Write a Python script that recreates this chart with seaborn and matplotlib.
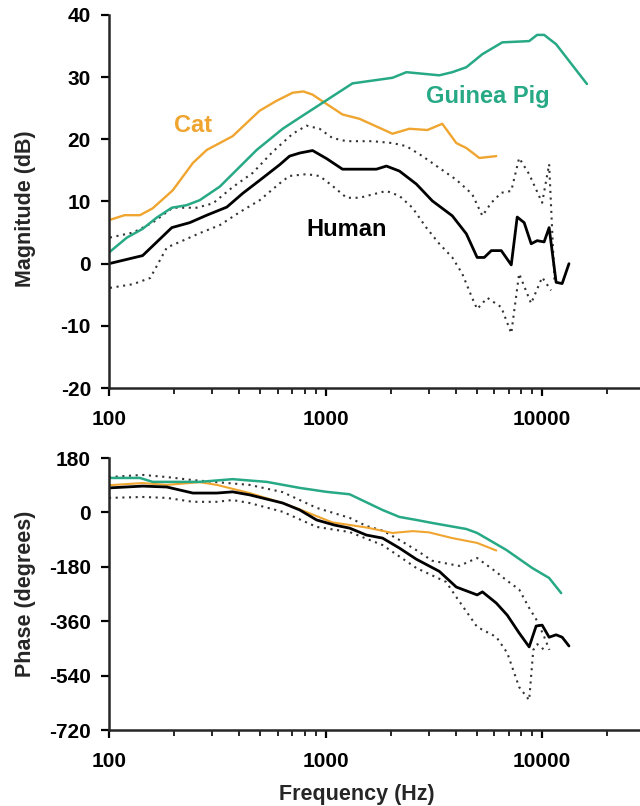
import matplotlib
matplotlib.use("Agg")
import matplotlib.pyplot as plt
import seaborn as sns
import pandas as pd
from matplotlib.ticker import LogLocator, NullFormatter, FixedLocator

sns.set_style("ticks")
plt.rcParams['font.family'] = ['Liberation Sans', 'DejaVu Sans']
plt.rcParams['font.weight'] = 'bold'

# ---------------- data: magnitude (dB) ----------------
cat_mag_f = [100, 118, 139, 159, 197, 244, 283, 372, 496, 594, 705, 790, 870, 960,
             1197, 1435, 2037, 2438, 2951, 3459, 4014, 4467, 5130, 6140]
cat_mag = [7.0, 7.8, 7.8, 8.9, 11.8, 16.2, 18.3, 20.5, 24.6, 26.2, 27.5, 27.7, 27.2, 26.2,
           24.0, 23.3, 20.9, 21.7, 21.5, 22.5, 19.4, 18.6, 17.0, 17.3]

gp_mag_f = [100, 121, 143, 166, 195, 228, 262, 325, 402, 481, 634, 760, 1011, 1331,
            2037, 2361, 3350, 3846, 4467, 5296, 6548, 8707, 9480, 10210, 11600, 16100]
gp_mag = [1.8, 4.2, 5.6, 7.4, 9.0, 9.4, 10.2, 12.4, 15.6, 18.3, 21.7, 23.5, 26.3, 29.0,
          29.9, 30.8, 30.3, 30.8, 31.6, 33.7, 35.6, 35.8, 36.8, 36.8, 35.3, 28.9]

hum_mag_f = [100, 143, 195, 236, 283, 350, 414, 496, 613, 682, 760, 871, 1011, 1197,
             1545, 1717, 1909, 2192, 2626, 3110, 3846, 4467, 5010, 5405, 5825, 6475,
             7200, 7670, 8260, 8900, 9480, 10210, 10770, 11600, 12370, 13300]
hum_mag = [0.0, 1.3, 5.8, 6.6, 7.8, 9.1, 11.3, 13.4, 15.9, 17.3, 17.8, 18.2, 16.9, 15.2,
           15.2, 15.2, 15.7, 14.9, 12.8, 10.1, 7.7, 4.8, 1.0, 1.0, 2.1, 2.1,
           -0.2, 7.5, 6.6, 3.2, 3.7, 3.5, 5.8, -3.0, -3.2, 0.0]

hum_up_mag_f = [101, 129, 159, 197, 254, 302, 372, 461, 570, 705, 817, 938, 1077, 1250,
                1648, 2037, 2361, 2800, 3350, 4014, 4750, 5296, 5825, 6475, 7200, 7830,
                8710, 10000, 10770, 11400]
hum_up_mag = [4.2, 5.0, 6.6, 9.0, 9.0, 9.7, 12.3, 14.6, 18.0, 20.9, 22.2, 21.7, 20.2, 19.7,
              19.7, 19.4, 18.9, 17.3, 15.4, 13.5, 11.2, 7.7, 9.8, 11.4, 11.7, 17.0,
              14.4, 9.8, 16.0, -2.7]

hum_lo_mag_f = [101, 129, 155, 185, 219, 262, 325, 402, 496, 613, 680, 817, 938, 1077,
                1250, 1435, 1909, 2192, 2518, 2917, 3350, 3846, 4275, 4750, 5010, 5585,
                6475, 7200, 7830, 8890, 10000, 10990]
hum_lo_mag = [-3.9, -3.3, -2.3, 2.6, 3.7, 4.9, 6.2, 8.3, 10.2, 12.9, 14.1, 14.4, 14.1, 12.5,
              10.6, 10.6, 11.7, 10.9, 9.0, 5.8, 3.2, 1.0, -1.6, -5.5, -7.3, -5.5,
              -7.0, -11.2, -1.6, -6.4, -2.2, -4.3]

# ---------------- data: phase (degrees) ----------------
cat_ph_f = [100, 143, 185, 262, 315, 446, 634, 760, 1073, 1545, 2037, 2524, 3000,
            3846, 5010, 6140]
cat_ph = [90, 97, 91, 100, 91, 64, 31, 10, -33, -50, -68, -62, -66, -85, -101, -126]

gp_ph_f = [100, 139, 159, 262, 372, 535, 760, 1011, 1291, 1832, 2192, 2626, 3110,
           4467, 5010, 6825, 9000, 10770, 12240]
gp_ph = [114, 114, 101, 101, 110, 101, 81, 68, 60, 8, -15, -25, -35, -55, -68, -124,
         -184, -217, -267]

hum_ph_f = [100, 143, 185, 244, 315, 372, 446, 634, 760, 909, 1100, 1291, 1545, 1832,
            2192, 2626, 3350, 4014, 5010, 5300, 6140, 6900, 7830, 8710, 9380, 10000,
            10770, 11600, 12370, 13300]
hum_ph = [81, 87, 84, 64, 64, 68, 58, 31, 8, -25, -42, -52, -75, -85,
          -118, -155, -195, -247, -273, -263, -300, -340, -399, -445, -376, -373,
          -413, -405, -413, -442]

hum_up_ph_f = [100, 143, 185, 244, 315, 446, 634, 909, 1291, 1545, 1832, 2192, 2626,
               3110, 4140, 5010, 6140, 6825, 7830, 8710, 9500, 10200, 10800]
hum_up_ph = [117, 124, 117, 107, 100, 91, 67, 15, -18, -45, -60, -91, -125,
             -160, -177, -151, -197, -224, -255, -316, -360, -410, -455]

hum_lo_ph_f = [100, 143, 185, 244, 315, 372, 446, 634, 909, 1291, 1832, 2626, 3600,
               4014, 5010, 6140, 6900, 7830, 8710, 9100, 9500, 10500]
hum_lo_ph = [48, 51, 48, 35, 35, 41, 31, 2, -48, -65, -108, -184, -230,
             -280, -379, -412, -465, -578, -621, -455, -436, -462]

mag_ticks = [-20, -10, 0, 10, 20, 30, 40]
ph_ticks = [-720, -540, -360, -180, 0, 180]
freq_ticks = [100, 1000, 10000]
freq_labels = ["100", "1000", "10000"]

ORANGE = "#EFA52F"
GREEN = "#27A986"
BLACK = "#000000"
DOT = "#333333"

W, H = 640, 806
fig = plt.figure(figsize=(W / 100, H / 100), dpi=100)
left = 109 / W
ax1 = fig.add_axes([left, 1 - 388 / H, 1 - left, (388 - 15) / H])
ax2 = fig.add_axes([left, 1 - 730 / H, 1 - left, (730 - 458) / H])

dotted = (0, (1, 2.2))


def draw(ax, f, v, color, lw, ls="-"):
    df = pd.DataFrame({"f": f, "v": v})
    sns.lineplot(data=df, x="f", y="v", ax=ax, color=color, lw=lw, linestyle=ls,
                 estimator=None, sort=False, legend=False)


# magnitude panel
draw(ax1, hum_up_mag_f, hum_up_mag, DOT, 1.5, dotted)
draw(ax1, hum_lo_mag_f, hum_lo_mag, DOT, 1.5, dotted)
draw(ax1, cat_mag_f, cat_mag, ORANGE, 1.7)
draw(ax1, gp_mag_f, gp_mag, GREEN, 1.8)
draw(ax1, hum_mag_f, hum_mag, BLACK, 2.0)

# phase panel
draw(ax2, hum_up_ph_f, hum_up_ph, DOT, 1.5, dotted)
draw(ax2, hum_lo_ph_f, hum_lo_ph, DOT, 1.5, dotted)
draw(ax2, cat_ph_f, cat_ph, ORANGE, 1.5)
draw(ax2, gp_ph_f, gp_ph, GREEN, 1.8)
draw(ax2, hum_ph_f, hum_ph, BLACK, 2.0)

for ax, yt, ylim in ((ax1, mag_ticks, (-20, 40)), (ax2, ph_ticks, (-720, 180))):
    ax.set_xscale("log")
    ax.set_xlim(100, 28300)
    ax.set_ylim(*ylim)
    ax.set_yticks(yt)
    ax.set_yticklabels([str(t) for t in yt])
    ax.set_xticks(freq_ticks)
    ax.set_xticklabels(freq_labels)
    ax.xaxis.set_minor_locator(LogLocator(base=10, subs=[2, 3, 4, 5, 6, 7, 8, 9], numticks=20))
    ax.xaxis.set_minor_formatter(NullFormatter())
    for s in ("top", "right"):
        ax.spines[s].set_visible(False)
    for s in ("left", "bottom"):
        ax.spines[s].set_linewidth(1.8)
    ax.tick_params(axis="both", which="major", direction="out", length=6, width=1.6,
                   labelsize=15, colors="black")
    ax.tick_params(axis="x", which="major", pad=10)
    ax.tick_params(axis="y", which="major", pad=7)
    ax.tick_params(axis="x", which="minor", direction="out", length=4, width=1.4)
    for lab in ax.get_xticklabels() + ax.get_yticklabels():
        lab.set_fontweight("bold")
    ax.set_xlabel("")
    ax.patch.set_alpha(0)

ax1.set_ylabel("Magnitude (dB)", fontsize=15.5, fontweight="bold")
ax2.set_ylabel("Phase (degrees)", fontsize=15.5, fontweight="bold")
ax2.set_xlabel("Frequency (Hz)", fontsize=15.5, fontweight="bold")
ax1.yaxis.set_label_coords(-0.137, 0.48)
ax2.yaxis.set_label_coords(-0.137, 0.5)
ax2.xaxis.set_label_coords(0.467, -0.2)

ax1.text(244, 21.1, "Cat", color=ORANGE, fontsize=17, fontweight="bold",
         ha="center", va="baseline")
ax1.text(2917, 25.8, "Guinea Pig", color=GREEN, fontsize=17, fontweight="bold",
         ha="left", va="baseline")
ax1.text(1250, 4.4, "Human", color=BLACK, fontsize=17, fontweight="bold",
         ha="center", va="baseline")

fig.savefig("out.png", dpi=100)
